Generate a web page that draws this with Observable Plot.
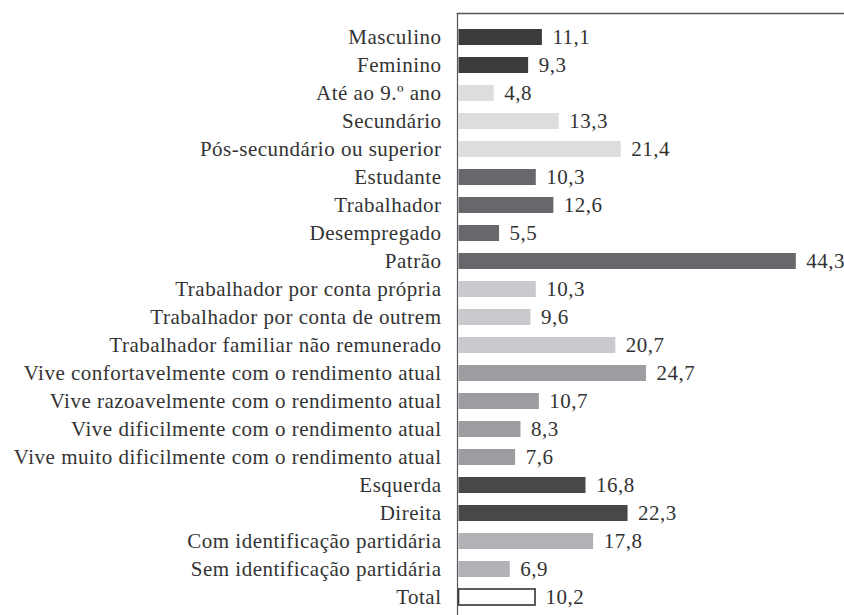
<!DOCTYPE html>
<html>
<head>
<meta charset="utf-8">
<script src="https://cdn.jsdelivr.net/npm/d3@7"></script>
<script src="https://cdn.jsdelivr.net/npm/@observablehq/plot@0.6"></script>
<style>
  html, body { margin: 0; padding: 0; background: #fff; }
  #chart svg { display: block; }
</style>
</head>
<body>
<div id="chart"></div>
<script>
const categories = [
  "Masculino", "Feminino",
  "Até ao 9.º ano", "Secundário", "Pós-secundário ou superior",
  "Estudante", "Trabalhador", "Desempregado", "Patrão",
  "Trabalhador por conta própria", "Trabalhador por conta de outrem", "Trabalhador familiar não remunerado",
  "Vive confortavelmente com o rendimento atual", "Vive razoavelmente com o rendimento atual",
  "Vive dificilmente com o rendimento atual", "Vive muito dificilmente com o rendimento atual",
  "Esquerda", "Direita",
  "Com identificação partidária", "Sem identificação partidária",
  "Total"
];
const values = [11.1, 9.3, 4.8, 13.3, 21.4, 10.3, 12.6, 5.5, 44.3, 10.3, 9.6, 20.7, 24.7, 10.7, 8.3, 7.6, 16.8, 22.3, 17.8, 6.9, 10.2];
const groups = [
  "sexo", "sexo",
  "escolaridade", "escolaridade", "escolaridade",
  "condicao", "condicao", "condicao", "condicao",
  "situacao", "situacao", "situacao",
  "rendimento", "rendimento", "rendimento", "rendimento",
  "ideologia", "ideologia",
  "partido", "partido",
  "total"
];

const groupColors = {
  sexo: "#3b3b3d",
  escolaridade: "#dcdddf",
  condicao: "#67686b",
  situacao: "#c9cacd",
  rendimento: "#9b9da1",
  ideologia: "#48484a",
  partido: "#b1b3b6",
  total: "#ffffff"
};

const data = categories.map((c, i) => ({category: c, value: values[i], group: groups[i]}));
const fmt = v => v.toFixed(1).replace(".", ",");
const font = "'Liberation Serif', 'DejaVu Serif', serif";

const chart = Plot.plot({
  width: 844,
  height: 615,
  marginLeft: 457,
  marginRight: 0,
  marginTop: 13,
  marginBottom: 0,
  insetTop: 15,
  insetBottom: 9,
  style: {fontFamily: font, fontSize: "21px", color: "#333", letterSpacing: "0.5px"},
  x: {domain: [0, 50.6], axis: null},
  y: {domain: categories, paddingInner: 0.43, paddingOuter: 0, label: null, tickSize: 0, tickPadding: 16},
  marks: [
    Plot.barX(data, {
      y: "category", x: "value",
      fill: d => groupColors[d.group],
      stroke: d => d.group === "total" ? "#333" : "none",
      strokeWidth: 1.6,
      insetLeft: 1.5
    }),
    Plot.text(data, {
      y: "category", x: "value", text: d => fmt(d.value),
      textAnchor: "start", dx: 10, fill: "#333", fontSize: 21
    }),
    Plot.frame({anchor: "left", stroke: "#555", strokeWidth: 1.2}),
    Plot.frame({anchor: "top", stroke: "#555", strokeWidth: 1.6})
  ]
});
document.getElementById("chart").appendChild(chart);
</script>
</body>
</html>
